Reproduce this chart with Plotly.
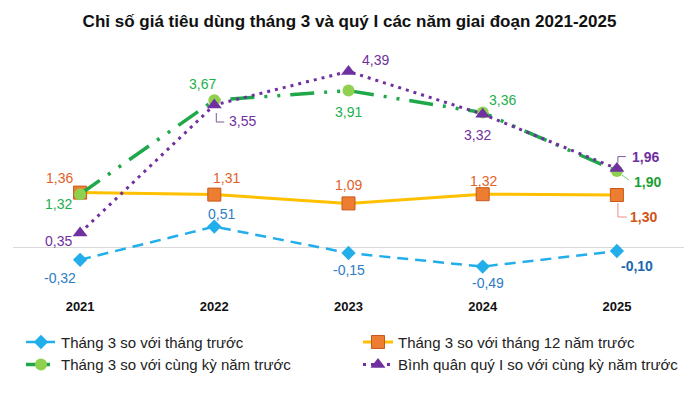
import plotly.graph_objects as go

years = [2021, 2022, 2023, 2024, 2025]
s_mom = [-0.32, 0.51, -0.15, -0.49, -0.10]
s_dec = [1.36, 1.31, 1.09, 1.32, 1.30]
s_yoy = [1.32, 3.67, 3.91, 3.36, 1.90]
s_q1 = [0.35, 3.55, 4.39, 3.32, 1.96]

names = [
    "Tháng 3 so với tháng trước",
    "Tháng 3 so với tháng 12 năm trước",
    "Tháng 3 so với cùng kỳ năm trước",
    "Bình quân quý I so với cùng kỳ năm trước",
]
title = "Chỉ số giá tiêu dùng tháng 3 và quý I các năm giai đoạn 2021-2025"

FONT = "Liberation Sans, Arial, sans-serif"

fig = go.Figure()
fig.add_trace(go.Scatter(
    x=years, y=s_mom, name=names[0], mode="lines+markers",
    line=dict(color="#22aeea", width=2.5, dash="11px,7px"),
    marker=dict(symbol="diamond", size=11, color="#22aeea"),
))
fig.add_trace(go.Scatter(
    x=years, y=s_dec, name=names[1], mode="lines+markers",
    line=dict(color="#ffc000", width=3),
    marker=dict(symbol="square", size=13, color="#ed7d31",
                line=dict(color="#c8581a", width=1)),
))
fig.add_trace(go.Scatter(
    x=years, y=s_yoy, name=names[2], mode="lines+markers",
    line=dict(color="#1ea84a", width=3.5, dash="24px,10px,3px,10px,3px,10px"),
    marker=dict(symbol="circle", size=12, color="#8fd14f"),
))
fig.add_trace(go.Scatter(
    x=years, y=s_q1, name=names[3], mode="lines+markers",
    line=dict(color="#7030a0", width=3, dash="3px,5px"),
    marker=dict(symbol="triangle-up", size=13, color="#7030a0"),
))

# label placement: (dx, dy) pixel offsets per point (dy positive = up), colour
label_specs = [
    (s_mom, [(-20, -18), (7, 13), (0, -17), (5, -16), (20, -15)],
     ["#2e7cc4"] * 4 + ["#1a66b0"]),
    (s_dec, [(-21, 15), (12, 17), (0, 18), (1, 13), (27, -22)],
     ["#e2612a"] * 4 + ["#d35418"]),
    (s_yoy, [(-22, -10), (-12, 16), (0, -21), (20, 13), (31, -11)],
     ["#22b04b"] * 4 + ["#1aa032"]),
    (s_q1, [(-22, -8), (28, -16), (27, 11), (-5, -21), (29, 12)],
     ["#7030a0"] * 5),
]

annotations = []
for vals, offs, cols in label_specs:
    for i, (yr, v) in enumerate(zip(years, vals)):
        last = i == len(years) - 1
        txt = f"{v:.2f}".replace(".", ",")
        if last:
            txt = f"<b>{txt}</b>"
        annotations.append(dict(
            x=yr, y=v, xref="x", yref="y", text=txt, showarrow=False,
            xshift=offs[i][0], yshift=offs[i][1],
            font=dict(family=FONT, size=14, color=cols[i]),
        ))

# leader lines anchored to data points (pixel paths)
shapes = [
    dict(type="path", xref="x", yref="y", xsizemode="pixel", ysizemode="pixel",
         xanchor=years[1], yanchor=s_q1[1], path="M 2,-8 L 2,-17 L 10,-17",
         line=dict(color="#7a5a9a", width=1)),
    dict(type="path", xref="x", yref="y", xsizemode="pixel", ysizemode="pixel",
         xanchor=years[4], yanchor=s_q1[4], path="M 1,6 L 1,12 L 9,12",
         line=dict(color="#7a5a9a", width=1)),
    dict(type="path", xref="x", yref="y", xsizemode="pixel", ysizemode="pixel",
         xanchor=years[4], yanchor=s_yoy[4], path="M 5,-4 L 12,-9",
         line=dict(color="#6fcf6f", width=1)),
    dict(type="path", xref="x", yref="y", xsizemode="pixel", ysizemode="pixel",
         xanchor=years[4], yanchor=s_dec[4], path="M 1,-8 L 1,-22 L 10,-22",
         line=dict(color="#f08a8a", width=1)),
]

# page body has an 8px margin, so the figure is sized to fit the remaining window
W, H = 691, 388

fig.update_layout(
    width=W, height=H,
    margin=dict(l=5, r=15, t=37, b=99, autoexpand=False),
    paper_bgcolor="white", plot_bgcolor="white",
    font=dict(family=FONT, size=14, color="#222222"),
    title=dict(text=f"<b>{title}</b>", x=341.5 / W, xref="container", xanchor="center",
               y=1 - 13 / H, yanchor="middle", yref="container",
               font=dict(family=FONT, size=17, color="#111111")),
    xaxis=dict(range=[2020.5, 2025.5], tickmode="array", tickvals=years,
               ticktext=[f"<b>{y}</b>" for y in years], showgrid=False,
               zeroline=False, showline=False, ticks="",
               tickfont=dict(family=FONT, size=13, color="#111111")),
    yaxis=dict(range=[-1.25, 5.05], showgrid=False, zeroline=True,
               zerolinecolor="#d9d9d9", zerolinewidth=1, showticklabels=False,
               ticks="", showline=False),
    showlegend=True,
    legend=dict(orientation="h", xref="container", x=13 / W, xanchor="left",
                y=-0.114, yanchor="top",
                entrywidth=292, entrywidthmode="pixels",
                font=dict(family=FONT, size=15, color="#222222"),
                bgcolor="rgba(0,0,0,0)", tracegroupgap=0),
    annotations=annotations,
    shapes=shapes,
)

fig.write_html("out.html")
